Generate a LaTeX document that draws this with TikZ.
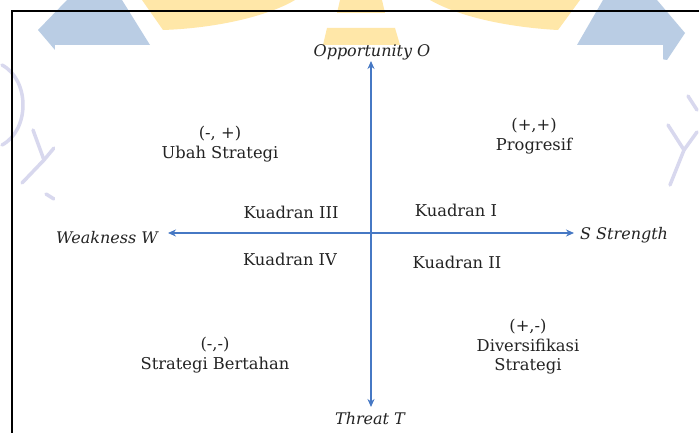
\documentclass[tikz,border=0pt]{standalone}
\usepackage{fontspec}
\setmainfont{DejaVu Serif}
\usetikzlibrary{arrows.meta}
\definecolor{axisblue}{RGB}{70,120,196}
\definecolor{wmblue}{RGB}{186,205,228}
\definecolor{wmyellow}{RGB}{255,231,168}
\definecolor{wmpurple}{RGB}{216,216,238}
\definecolor{txt}{RGB}{35,35,35}
\begin{document}
\begin{tikzpicture}[x=1pt,y=-1pt,
  lbl/.style={text=txt,font=\fontsize{16.3}{19.5}\selectfont,align=center,inner sep=0pt},
  axlbl/.style={text=txt,font=\fontsize{16}{19}\selectfont\itshape,inner sep=0pt},
  axisline/.style={draw=axisblue,line width=1.3pt,{Stealth[length=8pt,width=7pt]}-{Stealth[length=8pt,width=7pt]}},
  wm/.style={draw=wmpurple,line width=3.5pt,line cap=round,line join=round}]
\useasboundingbox (0,0) rectangle (699,433);
\fill[white] (0,0) rectangle (699,433);
% watermark
\fill[wmblue] (67,0) -- (122,0) -- (150,45) -- (55,50) -- (38,30) -- cycle;
\fill[wmyellow] (142,0) -- (163,30) .. controls (220,28) and (270,15) .. (295,0) -- cycle;
\fill[wmyellow] (340,0) -- (382,0) -- (385,13) -- (337,13) -- cycle;
\fill[wmyellow] (327,28) -- (395,28) -- (400,45) -- (323,45) -- cycle;
\fill[wmyellow] (430,0) .. controls (465,20) and (520,28) .. (558,30) -- (580,0) -- cycle;
\fill[wmblue] (603,0) -- (657,0) -- (685,33) -- (667,60) -- (577,45) -- cycle;
\draw[wm] (2,65) .. controls (30,80) and (30,130) .. (2,145);
\draw[wm] (22,183) -- (44,160) -- (33,130);
\draw[wm] (44,160) -- (54,148);
\draw[wm] (46,194) -- (54,199);
\draw[wm] (668,125) -- (684,150) -- (697,132);
\draw[wm] (684,150) -- (670,185);
\draw[wm] (688,96) -- (697,110);
\fill[white] (55,45) rectangle (663,433);
% frame
\draw[line width=2pt] (12,433) -- (12,11) -- (699,11);
% axes
\coordinate (c) at (371,233);
\coordinate (top) at (371,61);
\coordinate (bot) at (371,407);
\coordinate (lft) at (168,233);
\coordinate (rgt) at (574,233);
\draw[axisline] (bot) -- (top);
\draw[axisline] (lft) -- (rgt);
% axis labels
\node[axlbl] (opp) at (372,52) {Opportunity O};
\node[axlbl] (thr) at (370,419) {Threat T};
\node[axlbl,anchor=east] (weak) at (158,238) {Weakness W};
\node[axlbl,anchor=west] (str) at (580,235) {S Strength};
% quadrant labels
\node[lbl] (q3) at (291,212) {Kuadran III};
\node[lbl] (q1) at (456,210) {Kuadran I};
\node[lbl] (q4) at (290,259) {Kuadran IV};
\node[lbl] (q2) at (457,262) {Kuadran II};
% strategies
\node[lbl] (ubah) at (220,144) {(-, +)\\Ubah Strategi};
\node[lbl] (prog) at (534,136) {(+,+)\\Progresif};
\node[lbl] (bert) at (215,355) {(-,-)\\Strategi Bertahan};
\node[lbl] (div) at (528,347) {(+,-)\\Diversifikasi\\Strategi};
\end{tikzpicture}
\end{document}
